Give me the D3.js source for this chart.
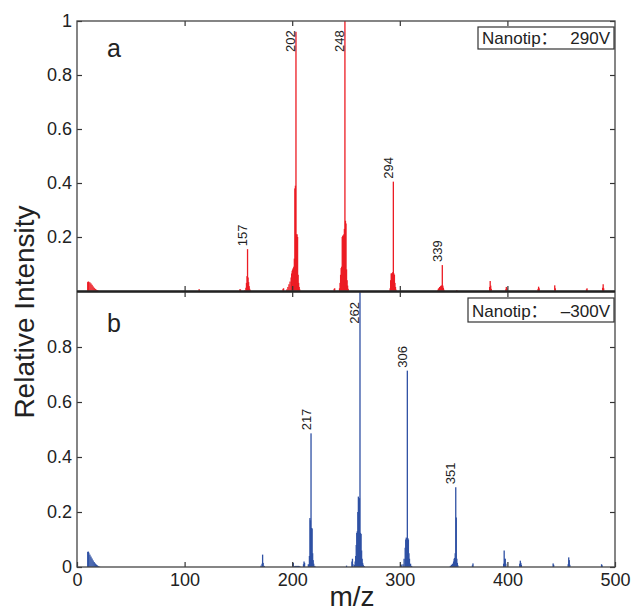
<!DOCTYPE html>
<html>
<head>
<meta charset="utf-8">
<script src="https://cdn.jsdelivr.net/npm/d3@7/dist/d3.min.js"></script>
<style>
  body { margin: 0; background: #fff; }
  svg text { font-family: "Liberation Sans", Arial, sans-serif; fill: #222; }
</style>
</head>
<body>
<svg width="631" height="612"></svg>
<script>
// ---- data: spectrum (a), Nanotip +290V ----
const mzA = [10, 10.5, 11, 12, 13, 14, 15, 16, 17, 18, 19, 20,
  113.5, 151.5, 152,
  156, 157, 157.5, 158, 158.5, 159, 159.5, 160, 160.5, 161,
  191.5, 192,
  195, 196, 197, 198, 199, 199.5, 200, 200.5, 201, 201.5, 202, 202.5, 203, 203.5, 204, 204.5, 205, 205.5, 206, 206.5, 207,
  239, 239.5,
  244, 244.5, 245, 245.5, 246, 246.5, 247, 247.5, 248, 248.5, 249, 249.5, 250, 250.5, 251, 251.5, 252,
  291, 291.5, 292, 292.5, 293, 293.5, 294, 294.5, 295, 295.5, 296, 296.5,
  335.5, 336, 337, 338, 338.5, 339, 339.5, 340, 340.5, 341,
  353, 383.5, 384, 384.5, 385, 398.5, 399, 399.5, 428.5, 429, 429.5,
  444, 444.5, 473.5, 474, 488.5, 489, 489.5];
const intA = [0.033, 0.035, 0.034, 0.032, 0.028, 0.023, 0.017, 0.012, 0.008, 0.005, 0.003, 0.001,
  0.007, 0.007, 0.005,
  0.003, 0.012, 0.03, 0.055, 0.155, 0.05, 0.033, 0.018, 0.008, 0.003,
  0.008, 0.01,
  0.006, 0.015, 0.025, 0.035, 0.05, 0.065, 0.075, 0.08, 0.085, 0.09, 0.12, 0.38, 0.39, 0.96, 0.21, 0.21, 0.2, 0.06, 0.03, 0.015, 0.006,
  0.008, 0.01,
  0.01, 0.03, 0.06, 0.085, 0.09, 0.2, 0.205, 0.205, 0.21, 0.23, 1.0, 0.26, 0.25, 0.08, 0.04, 0.02, 0.008,
  0.01, 0.04, 0.065, 0.065, 0.065, 0.07, 0.405, 0.065, 0.06, 0.03, 0.015, 0.005,
  0.005, 0.01, 0.015, 0.018, 0.02, 0.02, 0.096, 0.02, 0.012, 0.005,
  0.003, 0.015, 0.037, 0.02, 0.008, 0.006, 0.015, 0.01, 0.008, 0.016, 0.01,
  0.021, 0.01, 0.006, 0.01, 0.012, 0.025, 0.01];
const labelTextA = ['157', '202', '248', '294', '339'];
const labelMzA = [158.5, 203.5, 249, 294, 339.5];

// ---- data: spectrum (b), Nanotip -300V ----
const mzB = [10, 10.5, 11, 12, 13, 14, 15, 16, 17, 18, 19, 20, 21,
  171, 172, 172.5, 173, 174,
  201, 202, 203, 204, 205, 206, 207,
  210.5, 211, 211.5,
  215, 216, 216.5, 217, 217.5, 218, 218.5, 219, 219.5, 220, 221,
  250.5, 255.5, 256, 256.5,
  258, 258.5, 259, 259.5, 260, 260.5, 261, 261.5, 262, 262.5, 263, 263.5, 264, 264.5, 265, 265.5, 266, 267,
  301, 301.5,
  303, 304, 305, 305.5, 306, 306.5, 307, 307.5, 308, 308.5, 309, 310, 311,
  347, 348, 349, 350, 350.5, 351, 351.5, 352, 352.5, 353, 353.5, 354,
  367.5, 368, 396.5, 397, 397.5, 398, 398.5, 411.5, 412, 412.5, 413,
  442.5, 443, 456.5, 457, 457.5, 458, 487.5, 488];
const intB = [0.055, 0.056, 0.052, 0.045, 0.038, 0.031, 0.024, 0.018, 0.013, 0.009, 0.006, 0.003, 0.001,
  0.005, 0.012, 0.045, 0.015, 0.004,
  0.015, 0.003, 0.004, 0.004, 0.004, 0.004, 0.003,
  0.01, 0.02, 0.015,
  0.01, 0.04, 0.178, 0.17, 0.486, 0.142, 0.14, 0.05, 0.025, 0.012, 0.004,
  0.005, 0.02, 0.03, 0.01,
  0.008, 0.02, 0.04, 0.08, 0.124, 0.13, 0.2, 0.256, 0.25, 0.25, 1.0, 0.124, 0.12, 0.06, 0.03, 0.015, 0.008, 0.003,
  0.01, 0.006,
  0.01, 0.03, 0.07, 0.1, 0.107, 0.105, 0.714, 0.105, 0.1, 0.05, 0.03, 0.012, 0.004,
  0.004, 0.008, 0.012, 0.02, 0.03, 0.033, 0.05, 0.29, 0.18, 0.03, 0.015, 0.006,
  0.006, 0.013, 0.012, 0.06, 0.03, 0.03, 0.012, 0.012, 0.023, 0.015, 0.008,
  0.013, 0.008, 0.01, 0.035, 0.025, 0.008, 0.01, 0.006];
const labelTextB = ['217', '262', '306', '351'];
const labelMzB = [217.5, 263, 307, 352];

const xTicks = [0, 100, 200, 300, 400, 500];
const yTicksA = [0.2, 0.4, 0.6, 0.8, 1];
const yTicksB = [0, 0.2, 0.4, 0.6, 0.8];

// ---- layout ----
const left = 77, right = 615;
const svg = d3.select('svg');

const x = d3.scaleLinear().domain([0, 500]).range([left, right]);
const yA = d3.scaleLinear().domain([0, 1]).range([291, 21]);
const yB = d3.scaleLinear().domain([0, 1]).range([567, 292]);

const fmt = d => d === 1 ? '1' : d === 0 ? '0' : d3.format('.1f')(d);

function panel(y, mz, inten, color, labels, labelMz, ticksY, isBottom) {
  const [y0, y1] = y.range();
  const g = svg.append('g');

  // spectrum sticks
  g.selectAll('rect.bar')
    .data(mz.map((m, i) => ({ m: m, v: inten[i] })))
    .enter().append('rect')
    .attr('x', d => x(d.m) - 0.65)
    .attr('width', 1.3)
    .attr('y', d => y(d.v))
    .attr('height', d => y0 - y(d.v))
    .attr('fill', color);

  // peak labels, rotated
  labels.forEach((t, i) => {
    const m = labelMz[i];
    const peak = d3.max(mz.map((v, j) => Math.abs(v - m) < 0.3 ? inten[j] : 0));
    const ly = peak > 0.9 ? y(0.885) : y(peak) - 3;
    g.append('text')
      .attr('transform', `translate(${x(m) - 0.5},${ly}) rotate(-90)`)
      .style('font-size', '13px')
      .text(t);
  });

  // axes, ticks pointing inward
  const ax = (a) => a.tickSizeOuter(0);
  g.append('g').attr('transform', `translate(${left},0)`)
    .call(ax(d3.axisLeft(y).tickValues(ticksY).tickSize(-5).tickPadding(5).tickFormat(fmt)));
  g.append('g').attr('transform', `translate(${right},0)`)
    .call(ax(d3.axisRight(y).tickValues(ticksY).tickSize(-5).tickFormat('')));
  g.append('g').attr('transform', `translate(0,${y1})`)
    .call(ax(d3.axisTop(x).tickValues([100, 200, 300, 400]).tickSize(-5).tickFormat('')));
  g.append('g').attr('transform', `translate(0,${y0})`)
    .call(ax(d3.axisBottom(x).tickValues(isBottom ? xTicks : [100, 200, 300, 400])
      .tickSize(-5).tickPadding(6).tickFormat(isBottom ? d3.format('d') : '')));

  g.selectAll('.domain').remove();
  g.selectAll('.tick line').attr('stroke', '#333').attr('stroke-width', 1.2);
  g.selectAll('.tick text').style('font-size', '18px').attr('fill', '#222');

  // frame
  g.append('rect')
    .attr('x', left).attr('y', y1)
    .attr('width', right - left).attr('height', y0 - y1)
    .attr('fill', 'none').attr('stroke', '#444').attr('stroke-width', 1.3);
  return g;
}

panel(yA, mzA, intA, '#ec1c24', labelTextA, labelMzA, yTicksA, false);
panel(yB, mzB, intB, '#2f51a4', labelTextB, labelMzB, yTicksB, true);

// darker separator between panels
svg.append('line')
  .attr('x1', left).attr('x2', right)
  .attr('y1', 291.5).attr('y2', 291.5)
  .attr('stroke', '#222').attr('stroke-width', 2);

// panel letters
svg.append('text').attr('x', 107).attr('y', 57).style('font-size', '25px').text('a');
svg.append('text').attr('x', 107).attr('y', 332).style('font-size', '25px').text('b');

// legend boxes
function legend(bx, by, bw, bh, value) {
  svg.append('rect')
    .attr('x', bx).attr('y', by).attr('width', bw).attr('height', bh)
    .attr('fill', '#fff').attr('stroke', '#333').attr('stroke-width', 1.2);
  const t = svg.append('text').attr('x', bx + 4).attr('y', by + bh - 5)
    .style('font-size', '17px');
  t.append('tspan').text('Nanotip');
  t.append('tspan').attr('lang', 'zh-CN')
    .style('font-family', '"Noto Sans CJK SC", sans-serif').text('：');
  svg.append('text').attr('x', bx + bw - 4).attr('y', by + bh - 5)
    .attr('text-anchor', 'end').style('font-size', '17px').text(value);
}
legend(478, 27, 136, 22, '290V');
legend(468, 298, 146, 24, '–300V');

// axis titles
svg.append('text')
  .attr('transform', 'translate(34,312) rotate(-90)')
  .attr('text-anchor', 'middle')
  .style('font-size', '28px')
  .text('Relative Intensity');
svg.append('text')
  .attr('x', 352).attr('y', 606)
  .attr('text-anchor', 'middle')
  .style('font-size', '28px')
  .text('m/z');
</script>
</body>
</html>
